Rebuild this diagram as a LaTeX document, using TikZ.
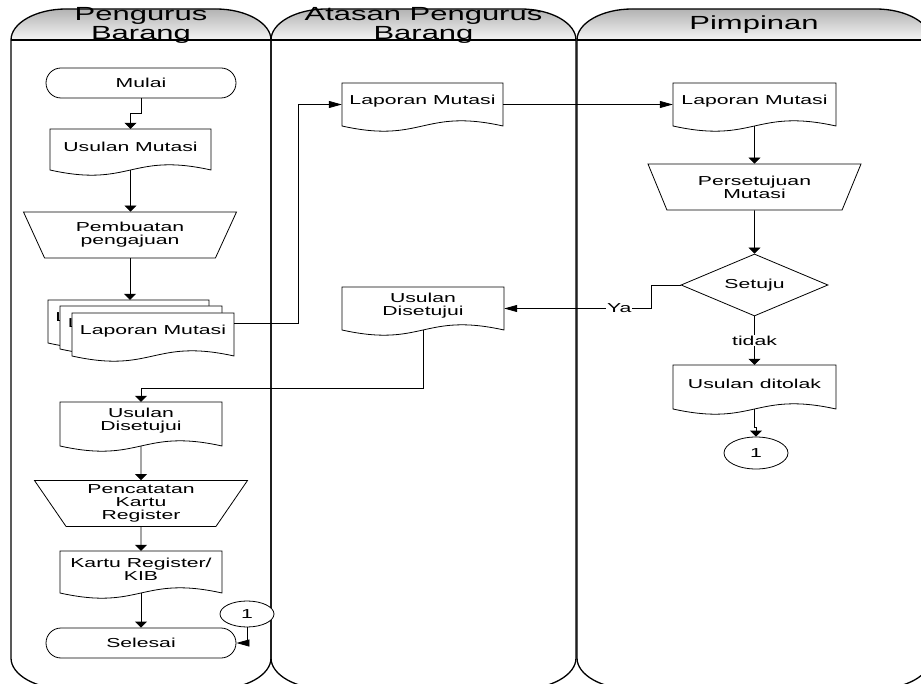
\documentclass[tikz,border=0pt]{standalone}
\usepackage{fontspec}
\setmainfont{Liberation Sans}[FakeStretch=1.63]
\usetikzlibrary{arrows.meta,shapes.geometric,shapes.misc,calc}

\tikzset{
  laneline/.style={line width=1.3pt},
  docline/.style={draw, fill=white, line width=0.8pt},
  docbox/.style={rectangle, inner sep=0pt},
  doctext/.style={align=center, inner sep=0pt, font=\fontsize{13}{13}\selectfont},
  term/.style={rounded rectangle, draw, fill=white, line width=0.8pt, minimum width=190pt, minimum height=30pt, inner sep=0pt, font=\fontsize{13}{13}\selectfont},
  manual/.style={trapezium, draw, fill=white, line width=0.8pt, shape border rotate=180, trapezium left angle=50, trapezium right angle=50, trapezium stretches body, minimum width=213pt, minimum height=46pt, inner sep=0pt, align=center, font=\fontsize{13}{13}\selectfont},
  decision/.style={diamond, draw, fill=white, line width=0.8pt, aspect=2.4, minimum width=147pt, minimum height=62pt, inner sep=0pt, font=\fontsize{13}{13}\selectfont},
  conn/.style={ellipse, draw, fill=white, line width=0.8pt, inner sep=0pt, font=\fontsize{13}{13}\selectfont},
  headtext/.style={align=center, inner sep=0pt, font=\fontsize{19}{19}\selectfont},
  arrv/.style={-{Triangle[length=6pt,width=12pt]}, line width=0.8pt},
  arrh/.style={-{Triangle[length=13pt,width=7pt]}, line width=0.8pt},
  lbl/.style={fill=white, inner sep=1pt, font=\fontsize{13}{13}\selectfont}
}

% document symbol: name, left, top, right, bottom, text
\newcommand{\docu}[6]{%
  \draw[docline] (#2,#3) -- (#4,#3) -- (#4,#5)
    .. controls ({(#2+#4)/2},#5-18) and ({(#2+#4)/2},#5+18) .. (#2,#5) -- cycle;
  \node[docbox, minimum width={#4pt-#2pt}, minimum height={#5pt-#3pt}] (#1) at ({(#2+#4)/2},{(#3+#5)/2}) {};
  \node[doctext] (#1-t) at ([yshift=3pt]#1.center) {#6};
}

\begin{document}
\begin{tikzpicture}[x=1pt,y=-1pt]
 \useasboundingbox (0,0) rectangle (921,684);
 \clip (0,0) rectangle (921,684);
 %
 \foreach \xa/\xb/\hname/\htext in {11/271/hPB/{Pengurus\\Barang}, 271/576/hAPB/{Atasan Pengurus\\Barang}, 577/931/hP/{Pimpinan}} {
  \shade[top color=black!30, bottom color=black!4] (\xa,40) .. controls (\xa,23) and (\xa+25,9) .. (\xa+55,9) -- (\xb-55,9) .. controls (\xb-25,9) and (\xb,23) .. (\xb,40) -- cycle;
  \draw[laneline] (\xa,40) .. controls (\xa,23) and (\xa+25,9) .. (\xa+55,9) -- (\xb-55,9) .. controls (\xb-25,9) and (\xb,23) .. (\xb,40)
   -- (\xb,658) .. controls (\xb,675) and (\xb-25,689) .. (\xb-55,689) -- (\xa+55,689) .. controls (\xa+25,689) and (\xa,675) .. (\xa,658) -- cycle;
  \draw[laneline] (\xa,40) -- (\xb,40);
  \node[headtext] (\hname) at ({(\xa+\xb)/2},25) {\htext};
 }
 %
 % Pengurus Barang
 \node[term] (mulai) at (141,83) {Mulai};
 \docu{usulan}{50}{129}{211}{170}{Usulan Mutasi}
 \node[manual] (buat) at (130,235) {Pembuatan\\pengajuan};
 \docu{lapA}{48}{300}{209}{343}{Laporan Mutasi}
 \docu{lapB}{60}{306}{222}{349}{Laporan Mutasi}
 \docu{lapC}{72}{313}{234}{356}{Laporan Mutasi}
 \docu{setuju1}{60}{402}{222}{446}{Usulan\\Disetujui}
 \node[manual] (catat) at (141,503.5) {Pencatatan\\Kartu\\Register};
 \docu{kartu}{60}{551}{222}{593}{Kartu Register/\\KIB}
 \node[term] (selesai) at (141,643) {Selesai};
 \node[conn, minimum width=54pt, minimum height=26pt] (c1a) at (247,614) {1};
 %
 % Atasan Pengurus Barang
 \docu{lap2}{342}{83}{503}{126}{Laporan Mutasi}
 \docu{setuju2}{342}{287}{504}{330}{Usulan\\Disetujui}
 %
 % Pimpinan
 \docu{lap3}{673}{83}{836}{126}{Laporan Mutasi}
 \node[manual] (persetujuan) at (754.5,187) {Persetujuan\\Mutasi};
 \node[decision] (cek) at (754.5,285) {Setuju};
 \docu{tolak}{673}{365}{836}{409}{Usulan ditolak}
 \node[conn, minimum width=64pt, minimum height=32pt] (c1b) at (756,453) {1};
 %
 \draw[arrv] (mulai.south) -- ++(0,15) -| (usulan.north);
 \draw[arrv] (usulan.south) -- (usulan.south |- buat.north);
 \draw[arrv] (buat.south) -- (buat.south |- lapA.north);
 \draw[arrh] ([yshift=11pt]lapC.east) -- ++(64,0) |- (lap2.west);
 \draw[arrh] (lap2.east) -- (lap3.west);
 \draw[arrv] (lap3.south) -- (persetujuan.north);
 \draw[arrv] (persetujuan.south) -- (cek.north);
 \draw[arrh] (cek.west) -- ++(-29,0) |- node[lbl, pos=0.61]{Ya} (setuju2.east);
 \draw[arrv] (cek.south) -- node[lbl]{tidak} (tolak.north);
 \draw[arrv] (tolak.south) -- ++(0,18) -| (c1b.north);
 \draw[arrv] (setuju2.south) -- ++(0,58) -| (setuju1.north);
 \draw[arrv] (setuju1.south) -- (catat.north);
 \draw[arrv] (catat.south) -- (kartu.north);
 \draw[arrv] (kartu.south) -- (selesai.north);
 \draw[arrh] (c1a.south) |- (selesai.east);
\end{tikzpicture}
\end{document}
